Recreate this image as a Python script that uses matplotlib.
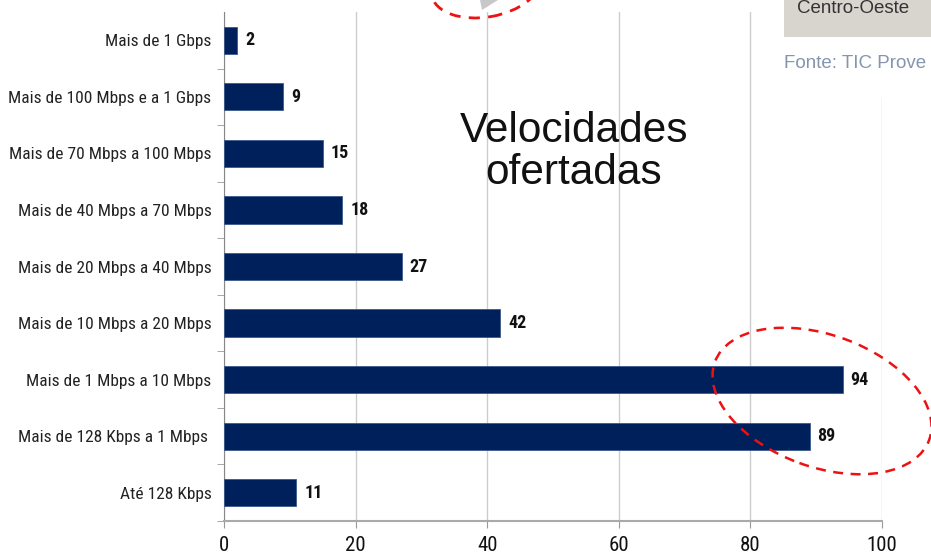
import matplotlib.pyplot as plt
from matplotlib.patches import Ellipse, Rectangle, Polygon
from matplotlib.transforms import IdentityTransform

# data
categories = ['Mais de 1 Gbps', 'Mais de 100 Mbps e a 1 Gbps', 'Mais de 70 Mbps a 100 Mbps',
              'Mais de 40 Mbps a 70 Mbps', 'Mais de 20 Mbps a 40 Mbps', 'Mais de 10 Mbps a 20 Mbps',
              'Mais de 1 Mbps a 10 Mbps', 'Mais de 128 Kbps a 1 Mbps ', 'Até 128 Kbps']
values = [2, 9, 15, 18, 27, 42, 94, 89, 11]
xticks = [0, 20, 40, 60, 80, 100]

narrow = ['Roboto Condensed', 'DejaVu Sans']
W, H = 931, 557

fig = plt.figure(figsize=(W / 100, H / 100), dpi=100)
ax = fig.add_axes([224 / W, 36 / H, 658 / W, 509 / H])

ypos = list(range(len(categories)))[::-1]
ax.barh(ypos, values, height=0.48, color='#00205b', edgecolor='#3a5a8c', linewidth=0.6, zorder=3)
for y, v in zip(ypos, values):
    ax.text(v + 1.2, y, str(v), va='center', ha='left', fontsize=13, fontweight='bold',
            family=narrow, color='#111111')

ax.set_xlim(0, 100)
ax.set_ylim(-0.5, len(categories) - 0.5)
ax.set_xticks(xticks)
ax.set_xticklabels([str(t) for t in xticks], family=narrow, fontsize=15, color='#111111')
ax.set_yticks(ypos)
ax.set_yticklabels(categories, family=narrow, fontsize=12.5, color='#222222')
ax.set_yticks([i - 0.5 for i in range(len(categories))], minor=True)
ax.tick_params(axis='y', which='major', length=0, pad=9)
ax.tick_params(axis='y', which='minor', length=5, color='#999999')
ax.tick_params(axis='x', length=5, color='#999999', pad=6)
ax.grid(axis='x', color='#cccccc', linewidth=1, zorder=0)
for s in ['top', 'right']:
    ax.spines[s].set_visible(False)
ax.spines['left'].set_color('#888888')
ax.spines['bottom'].set_color('#aaaaaa')
ax.spines['bottom'].set_linewidth(1.5)

fig.text(574 / W, 1 - 152 / H, 'Velocidades\nofertadas', ha='center', va='center',
         fontsize=30.5, family='Liberation Sans', linespacing=1.05, color='#111111')

# overlay pieces from the slide
px = IdentityTransform()
fig.patches.append(Rectangle((772, H - 98), 170, 98, transform=px, facecolor='white',
                             edgecolor='none', zorder=5))
fig.patches.append(Rectangle((784, H - 37), 160, 40, transform=px, facecolor='#d8d5cf',
                             edgecolor='none', zorder=6))
fig.text(853 / W, 1 - 13 / H, 'Centro-Oeste', ha='center', va='baseline', fontsize=13.5,
         family='Liberation Sans', color='#333333', zorder=7)
fig.text(784 / W, 1 - 64 / H, 'Fonte: TIC Prove', ha='left', va='center', fontsize=13.5,
         family='Liberation Sans', color='#8595ad', zorder=7)
fig.patches.append(Polygon([(480, H), (498, H), (482, H - 10)], closed=True, transform=px,
                           facecolor='#c8c8c8', edgecolor='none', zorder=6))
fig.patches.append(Ellipse((486, H + 14), 110, 62, angle=10, transform=px, fill=False,
                           edgecolor='#ee1111', linewidth=2, linestyle=(0, (4, 3)), zorder=8))
fig.patches.append(Ellipse((822, H - 401), 228, 132, angle=-20, transform=px, fill=False,
                           edgecolor='#ee1111', linewidth=1.8, linestyle=(0, (4, 3)), zorder=8))

fig.savefig('out.png', dpi=100)
